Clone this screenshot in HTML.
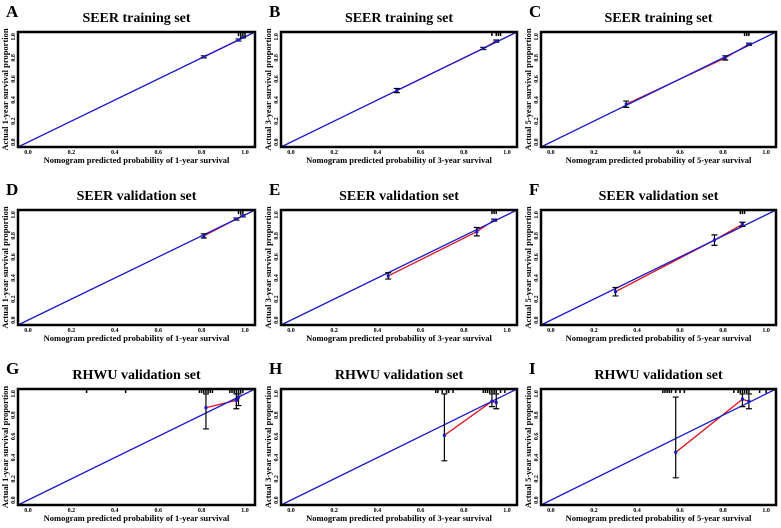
<!DOCTYPE html>
<html><head><meta charset="utf-8"><style>
body{margin:0;background:#fff;}
svg{display:block;font-family:"Liberation Serif",serif;}
</style></head><body>
<svg id="fig" width="781" height="528" viewBox="0 0 781 528" xmlns="http://www.w3.org/2000/svg"></svg>
<script>
const panelLetters=["A","B","C","D","E","F","G","H","I"];
const panelTitles=["SEER training set","SEER training set","SEER training set","SEER validation set","SEER validation set","SEER validation set","RHWU validation set","RHWU validation set","RHWU validation set"];
const panelYears=["1","3","5","1","3","5","1","3","5"];
const tickLabels=["0.0","0.2","0.4","0.6","0.8","1.0"];
const tickValues=[0,0.2,0.4,0.6,0.8,1.0];
// predicted (x), observed (y), error lower, error upper
const predA=[0.81,0.97,0.99], obsA=[0.81,0.97,0.995], loA=[0.80,0.96,0.99], hiA=[0.82,0.98,1.0];
const predB=[0.49,0.89,0.95], obsB=[0.49,0.89,0.96], loB=[0.47,0.88,0.95], hiB=[0.51,0.90,0.97];
const predC=[0.35,0.81,0.92], obsC=[0.36,0.80,0.93], loC=[0.33,0.78,0.92], hiC=[0.39,0.82,0.94];
const predD=[0.81,0.96,0.99], obsD=[0.80,0.96,0.99], loD=[0.78,0.95,0.98], hiD=[0.82,0.97,1.0];
const predE=[0.45,0.86,0.94], obsE=[0.42,0.84,0.95], loE=[0.39,0.80,0.94], hiE=[0.45,0.88,0.96];
const predF=[0.30,0.76,0.89], obsF=[0.27,0.76,0.91], loF=[0.23,0.71,0.89], hiF=[0.31,0.81,0.93];
const predG=[0.82,0.96,0.97], obsG=[0.87,0.94,0.97], loG=[0.67,0.86,0.89], hiG=[1.0,1.0,1.0];
const predH=[0.71,0.93,0.95], obsH=[0.61,0.93,0.92], loH=[0.37,0.88,0.86], hiH=[1.0,1.0,1.0];
const predI=[0.58,0.89,0.92], obsI=[0.45,0.95,0.93], loI=[0.21,0.88,0.86], hiI=[0.97,1.0,1.0];
const rugTop=[[0.97,0.98,0.99,1.0],[0.93,0.95,0.96,0.97],[0.90,0.91,0.92],[0.97,0.98,0.99],[0.93,0.94,0.95],[0.88,0.89,0.90],
 [0.27,0.45,0.79,0.80,0.81,0.82,0.83,0.84,0.85,0.93,0.94,0.95,0.96,0.97,0.98,0.99],
 [0.67,0.68,0.70,0.72,0.73,0.75,0.89,0.90,0.91,0.92,0.93,0.94,0.95,0.97,0.99],
 [0.52,0.53,0.54,0.55,0.56,0.58,0.60,0.62,0.85,0.87,0.88,0.89,0.90,0.91,0.92,0.97,1.0]];
const preds=[predA,predB,predC,predD,predE,predF,predG,predH,predI];
const obss=[obsA,obsB,obsC,obsD,obsE,obsF,obsG,obsH,obsI];
const los=[loA,loB,loC,loD,loE,loF,loG,loH,loI];
const his=[hiA,hiB,hiC,hiD,hiE,hiF,hiG,hiH,hiI];

const NS="http://www.w3.org/2000/svg";
const svg=document.getElementById('fig');
const colL=[18,281,541], colR=[255,517,776], rowT=[32,210,389], rowB=[147,325,505];
const dMin=-0.046, dMax=1.046;
function mk(tag,attrs,parent){const e=document.createElementNS(NS,tag);for(const k in attrs)e.setAttribute(k,attrs[k]);(parent||svg).appendChild(e);return e;}

for(let p=0;p<9;p++){
  const c=p%3,r=Math.floor(p/3);
  const L=colL[c],R=colR[c],T=rowT[r],B=rowB[r];
  const sx=v=>L+(v-dMin)/(dMax-dMin)*(R-L);
  const sy=v=>B-(v-dMin)/(dMax-dMin)*(B-T);
  const g=mk('g',{});
  
  
  const lt=mk('text',{x:L-12,y:T-15,'font-size':17,'font-weight':'bold'},g);lt.textContent=panelLetters[p];
  
  const tt=mk('text',{x:(L+R)/2,y:T-10,'font-size':14,'font-weight':'bold','text-anchor':'middle'},g);tt.textContent=panelTitles[p];
  
  tickValues.forEach((v,i)=>{
    const xt=mk('text',{x:sx(v),y:B+7,'font-size':6,'font-weight':'bold','text-anchor':'middle'},g);xt.textContent=tickLabels[i];
    
    const yt=mk('text',{x:0,y:0,'font-size':6,'font-weight':'bold','text-anchor':'middle',transform:`translate(${L-3},${sy(v)}) rotate(-90)`},g);yt.textContent=tickLabels[i];
    
  });
  const xl=mk('text',{x:(L+R)/2,y:B+16,'font-size':8.5,'font-weight':'bold','text-anchor':'middle'},g);
  xl.textContent='Nomogram predicted probability of '+panelYears[p]+'-year survival';
  
  const yl=mk('text',{x:0,y:0,'font-size':8.5,'font-weight':'bold','text-anchor':'middle',transform:`translate(${L-10},${(T+B)/2}) rotate(-90)`},g);
  yl.textContent='Actual '+panelYears[p]+'-year survival proportion';
  
  // red calibration line
  const pts=preds[p].map((v,i)=>sx(v)+','+sy(obss[p][i])).join(' ');
  const pl=mk('polyline',{points:pts,fill:'none',stroke:'#e0141e','stroke-width':1.3},g);
  
  // ideal line (drawn on top)
  const il=mk('line',{x1:sx(dMin),y1:sy(dMin),x2:sx(dMax),y2:sy(dMax),stroke:'#1a1acc','stroke-width':1.3},g);
  
  preds[p].forEach((v,i)=>{
    const x=sx(v);
    const eb=mk('path',{d:`M${x},${sy(los[p][i])}V${sy(his[p][i])}M${x-3},${sy(los[p][i])}H${x+3}M${x-3},${sy(his[p][i])}H${x+3}`,stroke:'#000','stroke-width':1.2,fill:'none'},g);
    
    const pt=mk('rect',{x:x-1.5,y:sy(obss[p][i])-1.5,width:3,height:3,fill:'#1a1acc'},g);
    
  });
  rugTop[p].forEach(v=>{
    const rg=mk('line',{x1:sx(v),y1:T,x2:sx(v),y2:T+4,stroke:'#000','stroke-width':1.5},g);
    
  });
  const fr=mk('rect',{x:L,y:T,width:R-L,height:B-T,fill:'none',stroke:'#000','stroke-width':2.5},g);
  
}
</script>
</body></html>
